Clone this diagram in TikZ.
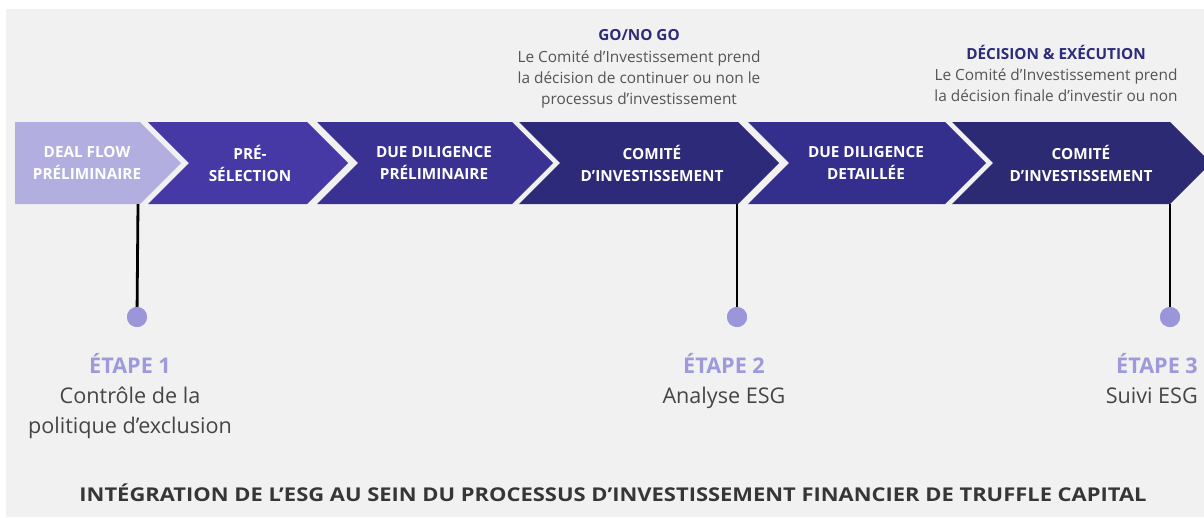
\documentclass[tikz,border=0pt]{standalone}
\usepackage{fontspec}
\setmainfont{Open Sans}
\usepackage{graphicx}
\definecolor{bg}{HTML}{F1F1F1}
\definecolor{c1}{HTML}{B2AEE0}
\definecolor{c2}{HTML}{4639A6}
\definecolor{c3}{HTML}{3A3293}
\definecolor{c4}{HTML}{2E2A7A}
\definecolor{c5}{HTML}{342F8C}
\definecolor{c6}{HTML}{2C2A72}
\definecolor{navy}{HTML}{2D2B7A}
\definecolor{lav}{HTML}{9E99DB}
\definecolor{dotc}{HTML}{9B95DA}
\definecolor{bodyc}{HTML}{454545}
\definecolor{topc}{HTML}{555555}
\definecolor{titlec}{HTML}{363636}
\tikzset{
  chevtxt/.style={text=white, font=\fontsize{15.3}{22}\selectfont\bfseries, align=center, inner sep=0pt},
  toptxt/.style={text=topc, font=\fontsize{15.4}{21}\selectfont, align=center, inner sep=0pt},
  tophead/.style={text=navy, font=\fontsize{15.3}{21}\selectfont\bfseries, inner sep=0pt},
  etape/.style={text=lav, font=\fontsize{21.6}{30}\selectfont\bfseries, inner sep=0pt},
  bodytxt/.style={text=bodyc, font=\fontsize{21.6}{30}\selectfont, align=center, inner sep=0pt},
  dotnode/.style={circle, fill=dotc, minimum size=20pt, inner sep=0pt},
  stem/.style={draw=black, line width=2.8pt},
}
\begin{document}
\begin{tikzpicture}[x=1pt,y=-1pt]
\useasboundingbox (0,0) rectangle (1204,517);
\begin{scope}
\clip (0,0) rectangle (1204,517);
\fill[white] (0,0) rectangle (1204,517);
\fill[bg] (6,9) rectangle (1204,517);
% chevrons
\fill[c1] (15,122) -- (140,122) -- (181,163) -- (140,204) -- (15,204) -- cycle;
\foreach \L/\R/\c in {148/307/c2, 317/512/c3, 519/738/c4, 748/945/c5, 952/1170/c6}{
  \fill[\c] (\L,122) -- (\R,122) -- ({\R+41},163) -- (\R,204) -- (\L,204) -- ({\L+41},163) -- cycle;
}
\end{scope}
% chevron texts
\node[chevtxt] (t1) at (87,163) {DEAL FLOW\\PRÉLIMINAIRE};
\node[chevtxt] (t2) at (250,163) {PRÉ-\\SÉLECTION};
\node[chevtxt] (t3) at (434,163) {DUE DILIGENCE\\PRÉLIMINAIRE};
\node[chevtxt] (t4) at (652,163) {COMITÉ\\D’INVESTISSEMENT};
\node[chevtxt] (t5) at (866,163) {DUE DILIGENCE\\DETAILLÉE};
\node[chevtxt] (t6) at (1081,163) {COMITÉ\\D’INVESTISSEMENT};
% top texts
\node[tophead, anchor=base] (h1) at (639,40) {GO/NO GO};
\node[toptxt, anchor=north] (b1) at (639,50) {Le Comité d’Investissement prend\\la décision de continuer ou non le\\processus d’investissement};
\node[tophead, anchor=base] (h2) at (1056,59) {DÉCISION \& EXÉCUTION};
\node[toptxt, anchor=north] (b2) at (1056,68) {Le Comité d’Investissement prend\\la décision finale d’investir ou non};
% stems and dots
\coordinate (s1) at (138,204);
\coordinate (s2) at (737,204);
\coordinate (s3) at (1170,204);
\node[dotnode] (d1) at (137,317) {};
\node[dotnode] (d2) at (737,317) {};
\node[dotnode] (d3) at (1170,317) {};
\draw[stem] (s1) -- (d1.center);
\draw[stem] (s2) -- (d2.center);
\draw[stem] (s3) -- (d3.center);
\node[dotnode] at (137,317) {};
\node[dotnode] at (737,317) {};
\node[dotnode] at (1170,317) {};
% etapes
\node[etape, anchor=base] (e1) at (130,373) {ÉTAPE 1};
\node[bodytxt, anchor=north] (l1) at (130,387) {Contrôle de la\\politique d’exclusion};
\node[etape, anchor=base] (e2) at (724,373) {ÉTAPE 2};
\node[bodytxt, anchor=north] (l2) at (724,387) {Analyse ESG};
\node[etape, anchor=base east] (e3) at (1198,373) {ÉTAPE 3};
\node[bodytxt, anchor=north east] (l3) at (1198,387) {Suivi ESG};
% title
\node[text=titlec, inner sep=0pt, anchor=base] (title) at (613,501) {\resizebox{1067pt}{\height}{\fontsize{19}{22}\selectfont\bfseries INTÉGRATION DE L’ESG AU SEIN DU PROCESSUS D’INVESTISSEMENT FINANCIER DE TRUFFLE CAPITAL}};
\end{tikzpicture}
\end{document}
